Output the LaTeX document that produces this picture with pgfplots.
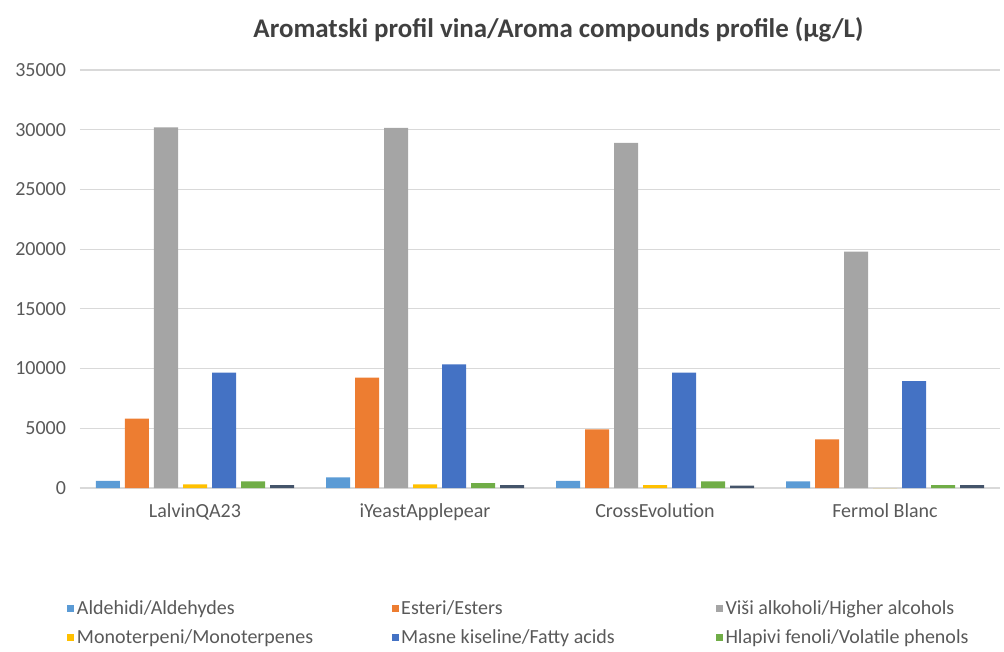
\documentclass[border=0pt]{standalone}
\usepackage{fontspec}
\setmainfont{Carlito}
\usepackage{pgfplots}
\pgfplotsset{compat=1.18}
\definecolor{c1}{HTML}{5B9BD5}
\definecolor{c2}{HTML}{ED7D31}
\definecolor{c3}{HTML}{A5A5A5}
\definecolor{c4}{HTML}{FFC000}
\definecolor{c5}{HTML}{4472C4}
\definecolor{c6}{HTML}{70AD47}
\definecolor{c7}{HTML}{44546A}
\definecolor{gridgray}{HTML}{D9D9D9}
\definecolor{labelgray}{HTML}{595959}
\definecolor{titlegray}{HTML}{404040}
\begin{document}
\begin{tikzpicture}
\useasboundingbox (-60pt,-122.25pt) rectangle (693pt,366pt);
\begin{axis}[
  at={(0,0)}, anchor=south west,
  scale only axis, width=690pt, height=313.5pt,
  ybar=3.75pt, bar width=18pt,
  xmin=-0.5, xmax=3.5, ymin=0, ymax=35000,
  xtick={0,1,2,3},
  xticklabels={LalvinQA23,iYeastApplepear,CrossEvolution,Fermol Blanc},
  ytick={0,5000,10000,15000,20000,25000,30000,35000},
  scaled y ticks=false,
  /pgf/number format/1000 sep={},
  /pgf/number format/assume math mode=true,
  ymajorgrids, grid style={draw=gridgray, line width=0.9pt},
  axis line style={draw=none},
  tick style={draw=none},
  ticklabel style={font=\fontsize{15}{17}\selectfont, text=labelgray},
  yticklabel style={xshift=-7pt},
  xticklabel style={yshift=-4pt},
  clip=false,
  legend columns=3,
  legend style={at={(-0.014,-0.262)}, anchor=north west, draw=none, fill=none,
    font=\fontsize{15}{17}\selectfont, text=labelgray,
    /tikz/every even column/.append style={column sep=0pt},
    row sep=6pt, inner sep=0pt},
  legend cell align=left,
  legend image code/.code={\path[#1,draw=none] (0pt,-2.6pt) rectangle (5.2pt,2.6pt);},
]
\addplot[fill=c1, draw=none] coordinates {(0,600) (1,900) (2,600) (3,550)};
\addlegendentry{\makebox[234pt][l]{Aldehidi/Aldehydes}}
\addplot[fill=c2, draw=none] coordinates {(0,5800) (1,9250) (2,4900) (3,4070)};
\addlegendentry{\makebox[234pt][l]{Esteri/Esters}}
\addplot[fill=c3, draw=none] coordinates {(0,30200) (1,30150) (2,28900) (3,19800)};
\addlegendentry{Viši alkoholi/Higher alcohols}
\addplot[fill=c4, draw=none] coordinates {(0,300) (1,300) (2,250) (3,0)};
\addlegendentry{\makebox[234pt][l]{Monoterpeni/Monoterpenes}}
\addplot[fill=c5, draw=none] coordinates {(0,9660) (1,10360) (2,9660) (3,8950)};
\addlegendentry{\makebox[234pt][l]{Masne kiseline/Fatty acids}}
\addplot[fill=c6, draw=none] coordinates {(0,550) (1,400) (2,550) (3,250)};
\addlegendentry{Hlapivi fenoli/Volatile phenols}
\addplot[fill=c7, draw=none] coordinates {(0,250) (1,250) (2,200) (3,250)};
\node[font=\fontsize{20.2}{24}\selectfont\bfseries, text=titlegray] at (axis description cs:0.52,1.096) {Aromatski profil vina/Aroma compounds profile (μg/L)};
\end{axis}
\end{tikzpicture}
\end{document}
